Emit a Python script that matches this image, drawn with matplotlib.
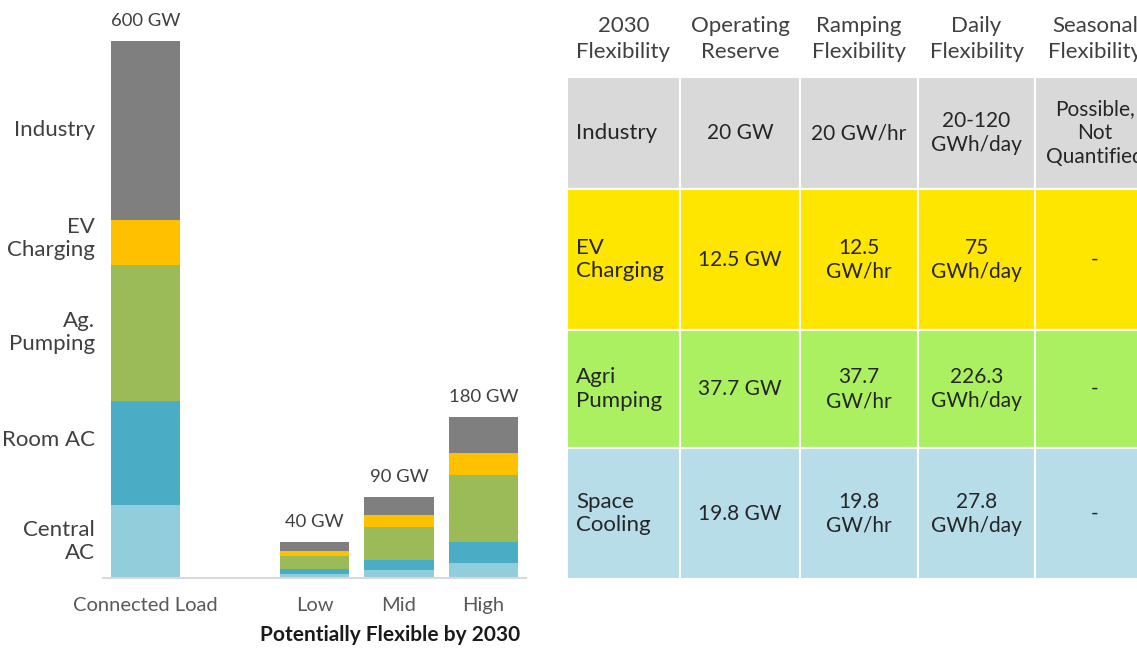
import numpy as np
import matplotlib
matplotlib.use("Agg")
import matplotlib.pyplot as plt
from matplotlib.patches import Rectangle

plt.rcParams['font.family'] = ['Lato', 'DejaVu Sans']

# bar data (GW)
bar_names = ['Connected Load', 'Low', 'Mid', 'High']
bar_pos = [0, 2, 3, 4]
segments = ['Central\nAC', 'Room AC', 'Ag.\nPumping', 'EV\nCharging', 'Industry']
central_ac = [82, 4.5, 8.8, 17]
room_ac = [116, 5.5, 11, 23]
ag_pumping = [152, 15, 37.7, 75]
ev_charging = [50, 5, 12.5, 25]
industry = [200, 10, 20, 40]
totals = ['600 GW', '40 GW', '90 GW', '180 GW']
seg_colors = ['#92cddc', '#4bacc6', '#9bbb59', '#ffc000', '#7f7f7f']

# table data
col_headers = ['2030\nFlexibility', 'Operating\nReserve', 'Ramping\nFlexibility',
               'Daily\nFlexibility', 'Seasonal\nFlexibility']
row_labels = ['Industry', 'EV\nCharging', 'Agri\nPumping', 'Space\nCooling']
operating = ['20 GW', '12.5 GW', '37.7 GW', '19.8 GW']
ramping = ['20 GW/hr', '12.5\nGW/hr', '37.7\nGW/hr', '19.8\nGW/hr']
daily = ['20-120\nGWh/day', '75\nGWh/day', '226.3\nGWh/day', '27.8\nGWh/day']
seasonal = ['Possible,\nNot\nQuantified', '-', '-', '-']
row_colors = ['#d9d9d9', '#ffe600', '#aaf060', '#b7dde8']

W, H = 1137, 648
fig = plt.figure(figsize=(W / 100, H / 100), dpi=100)

# ---- stacked bars ----
ax = fig.add_axes([103.25 / W, (H - 578) / H, 422.5 / W, 537 / H])
stack = [central_ac, room_ac, ag_pumping, ev_charging, industry]
bottom = np.zeros(len(bar_pos))
for vals, c in zip(stack, seg_colors):
    ax.bar(bar_pos, vals, width=0.82, bottom=bottom, color=c, edgecolor='none')
    bottom += np.array(vals)

ax.set_xlim(-0.5, 4.5)
ax.set_ylim(0, 600)
for s in ['top', 'right', 'left']:
    ax.spines[s].set_visible(False)
ax.spines['bottom'].set_color('#d9d9d9')
ax.spines['bottom'].set_linewidth(1.5)
ax.set_yticks([])
ax.set_xticks(bar_pos)
ax.set_xticklabels(bar_names, fontsize=14.5, color='#595959')
ax.tick_params(axis='x', length=0, pad=14)

for x, tot, lab in zip(bar_pos, bottom, totals):
    ax.annotate(lab, (x, tot), xytext=(0, 14.5), textcoords='offset points',
                ha='center', va='center', fontsize=13.3, color='#404040')

# segment names beside the connected load bar
label_shift = [0, 9, 0, 3, 0]  # small nudges (points) as in the original
cum = 0
for name, vals, dy in zip(segments, stack, label_shift):
    mid = cum + vals[0] / 2
    cum += vals[0]
    ax.annotate(name, (-0.5, mid), xytext=(-6, dy), textcoords='offset points',
                ha='right', va='center', fontsize=16, color='#404040',
                linespacing=1.2, annotation_clip=False)

fig.text(390 / W, 1 - 635 / H, 'Potentially Flexible by 2030', ha='center',
         va='center', fontsize=15, fontweight='bold', color='#1a1a1a')

# ---- table ----
tx = fig.add_axes([567 / W, 0, (W - 567) / W, 1])
tx.set_xlim(567, W)
tx.set_ylim(H, 0)
tx.axis('off')

col_edges = [567, 680, 800, 918, 1035, 1155]
row_edges = [77, 189, 330, 448, 579]
columns = [row_labels, operating, ramping, daily, seasonal]

for j, head in enumerate(col_headers):
    cx = (col_edges[j] + col_edges[j + 1]) / 2
    tx.text(cx, 39, head, ha='center', va='center', fontsize=16,
            color='#404040', linespacing=1.35, clip_on=True)

for i in range(len(row_labels)):
    y0, y1 = row_edges[i], row_edges[i + 1]
    for j in range(len(columns)):
        x0, x1 = col_edges[j], col_edges[j + 1]
        tx.add_patch(Rectangle((x0, y0), x1 - x0, y1 - y0, facecolor=row_colors[i],
                               edgecolor='white', linewidth=1.5, clip_on=True))
        txt = columns[j][i]
        if j == 0:
            tx.text(x0 + 9, (y0 + y1) / 2, txt, ha='left', va='center',
                    fontsize=16, color='#262626', linespacing=1.2)
        else:
            tx.text((x0 + x1) / 2, (y0 + y1) / 2, txt, ha='center', va='center',
                    fontsize=15, color='#262626', linespacing=1.25, clip_on=True)

fig.savefig('out.png', dpi=100)
